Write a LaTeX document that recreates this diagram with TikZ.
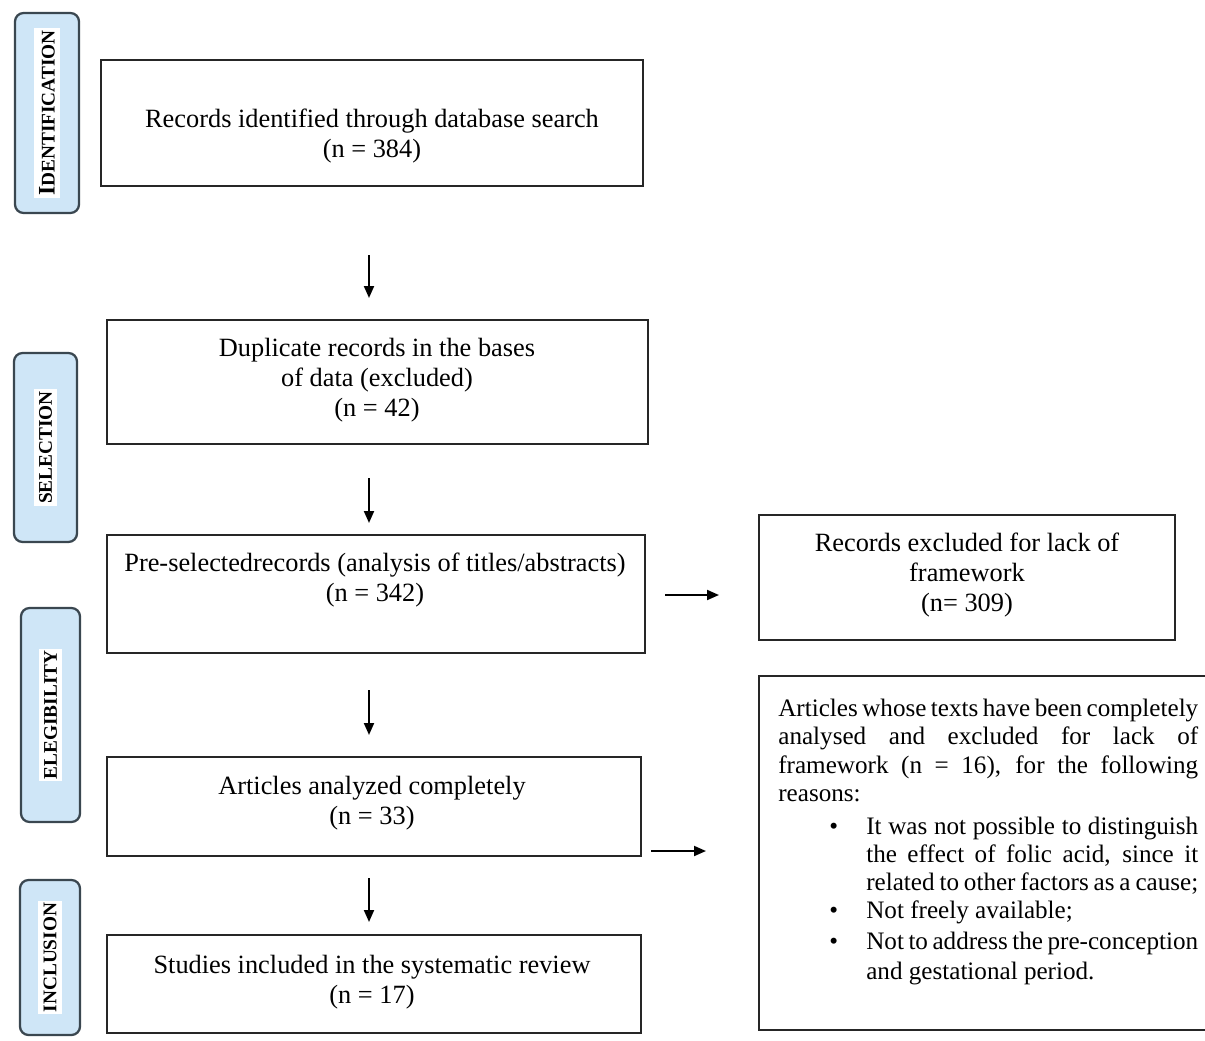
\documentclass[tikz,border=0pt]{standalone}
\usepackage{fontspec}
\setmainfont{Liberation Serif}
\usetikzlibrary{arrows.meta}
\definecolor{sidefill}{HTML}{CFE6F7}
\definecolor{sidedraw}{HTML}{3A4750}
\newcommand\bitem{\par\hangindent=1.76cm\hangafter=1\noindent\hspace*{1.02cm}\makebox[0.74cm][l]{\textbullet}}
\tikzset{
  x=0.02cm, y=-0.02cm,
  box/.style={draw=black!85, line width=1.1pt, inner sep=0pt, fill=white},
  side/.style={draw=sidedraw, fill=sidefill, line width=1.3pt, rounded corners=0.17cm, inner sep=0pt},
  txt/.style={align=center, font=\fontsize{15}{17}\selectfont, inner sep=0pt},
  flow/.style={line width=1.1pt, -{Triangle[length=0.24cm, width=0.2cm]}},
}
\newcommand\sidelabel[1]{\rotatebox{90}{\colorbox{white}{\hspace{-2pt}\fontsize{11}{13}\selectfont\bfseries #1\hspace{-2pt}}}}
\begin{document}
\begin{tikzpicture}
\useasboundingbox (0,0) rectangle (1205,1041);
% side phase labels
\node[side, minimum width=1.28cm, minimum height=4.0cm] (sid) at (47,113) {\sidelabel{{\fontsize{13.5}{14}\selectfont I}{\fontsize{11}{13}\selectfont DENTIFICATION}}};
\node[side, minimum width=1.26cm, minimum height=3.78cm] (ssel) at (45.5,447.5) {\sidelabel{SELECTION}};
\node[side, minimum width=1.18cm, minimum height=4.28cm] (sele) at (50.5,715) {\sidelabel{ELEGIBILITY}};
\node[side, minimum width=1.20cm, minimum height=3.10cm] (sinc) at (50,957.5) {\sidelabel{INCLUSION}};
% main boxes
\node[box, minimum width=10.84cm, minimum height=2.52cm] (b1) at (372,123) {};
\node[box, minimum width=10.82cm, minimum height=2.48cm] (b2) at (377.5,382) {};
\node[box, minimum width=10.76cm, minimum height=2.36cm] (b3) at (376,594) {};
\node[box, minimum width=10.68cm, minimum height=1.98cm] (b4) at (374,806.5) {};
\node[box, minimum width=10.68cm, minimum height=1.96cm] (b5) at (374,984) {};
\node[box, minimum width=8.32cm, minimum height=2.50cm] (r1) at (967,577.5) {};
\node[box, minimum width=9.12cm, minimum height=7.08cm] (r2) at (987,853) {};
% texts
\node[txt] (t1) at (372,136) {Records identified through database search\\(n = 384)};
\node[txt] (t2) at (377,380) {Duplicate records in the bases\\of data (excluded)\\(n = 42)};
\node[txt] (t3) at (375,580) {Pre-selectedrecords (analysis of titles/abstracts)\\(n = 342)};
\node[txt] (t4) at (372,803) {Articles analyzed completely\\(n = 33)};
\node[txt] (t5) at (372,982) {Studies included in the systematic review\\(n = 17)};
\node[txt] (t6) at (967,575) {Records excluded for lack of\\framework\\(n= 309)};
\node[txt, anchor=north west, align=justify, text width=8.4cm, font=\fontsize{14.3}{16pt}\selectfont] (t7) at (778,699) {%
Articles whose texts have been completely\linebreak
analysed and excluded for lack of\linebreak
framework (n = 16), for the following\linebreak
reasons:\par\vspace{3pt}
\bitem It was not possible to distinguish\linebreak
the effect of folic acid, since it\linebreak
related to other factors as a cause;
\bitem Not freely available;\par\vspace{1.5pt}
\bitem Not to address the pre-conception\linebreak
\vrule width 0pt height 13pt and gestational period.\par};
% arrows
\coordinate (a1s) at (369,255); \coordinate (a1e) at (369,298);
\coordinate (a2s) at (369,478); \coordinate (a2e) at (369,523);
\coordinate (a3s) at (665,595); \coordinate (a3e) at (719,595);
\coordinate (a4s) at (369,690); \coordinate (a4e) at (369,735);
\coordinate (a5s) at (651,851); \coordinate (a5e) at (706,851);
\coordinate (a6s) at (369,878); \coordinate (a6e) at (369,922);
\draw[flow] (a1s) -- (a1e);
\draw[flow] (a2s) -- (a2e);
\draw[flow] (a3s) -- (a3e);
\draw[flow] (a4s) -- (a4e);
\draw[flow] (a5s) -- (a5e);
\draw[flow] (a6s) -- (a6e);
\end{tikzpicture}
\end{document}
